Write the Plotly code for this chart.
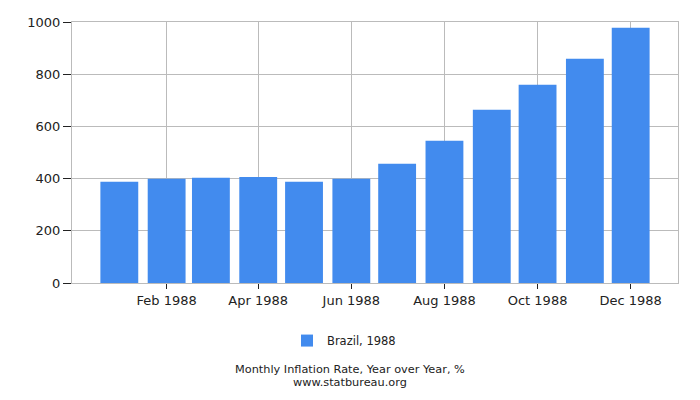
import plotly.graph_objects as go
import pandas as pd

months = pd.date_range("1988-01-01", periods=12, freq="MS")
inflation = [387.5, 399.0, 402.8, 406.6, 387.5, 399.0,
             456.5, 544.8, 663.7, 759.6, 859.3, 978.3]
series_name = "Brazil, 1988"
y_ticks = [0, 200, 400, 600, 800, 1000]

DAY_MS = 24 * 3600 * 1000
# centre of the page, in plot-area paper coords
PAGE_MID = (350 - 72) / 606

fig = go.Figure()
fig.add_trace(go.Bar(
    x=months,
    y=inflation,
    name=series_name,
    marker=dict(color="#428BEE", line=dict(width=0)),
    width=[24.8 * DAY_MS] * len(months),
    showlegend=True,
))

fig.update_layout(
    width=700,
    height=400,
    margin=dict(l=72, r=22, t=22, b=117),
    plot_bgcolor="white",
    paper_bgcolor="white",
    font=dict(family="DejaVu Sans", size=13, color="#222"),
    showlegend=True,
    legend=dict(
        orientation="h",
        x=(344 - 72) / 606, xanchor="center",
        y=-0.165, yanchor="top",
        font=dict(size=11.5),
    ),
    xaxis=dict(
        type="date",
        range=["1987-12-01", "1989-01-01"],
        tickvals=months[1::2],
        tickformat="%b %Y",
        ticks="outside",
        ticklen=5,
        tickcolor="#222",
        showgrid=True,
        gridcolor="#bbbbbb",
        showline=True,
        linecolor="#bbbbbb",
        mirror=True,
    ),
    yaxis=dict(
        range=[0, 1000],
        tickvals=y_ticks,
        ticks="outside",
        ticklen=8,
        tickcolor="#222",
        showgrid=True,
        gridcolor="#bbbbbb",
        showline=True,
        linecolor="#bbbbbb",
        mirror=True,
        zeroline=False,
    ),
    annotations=[
        dict(
            text="Monthly Inflation Rate, Year over Year, %",
            xref="paper", yref="paper",
            x=PAGE_MID, y=(283 - 369.5) / 261,
            xanchor="center", yanchor="middle",
            showarrow=False, borderpad=0,
            font=dict(size=11.3, color="#222"),
        ),
        dict(
            text="www.statbureau.org",
            xref="paper", yref="paper",
            x=PAGE_MID, y=(283 - 382.5) / 261,
            xanchor="center", yanchor="middle",
            showarrow=False, borderpad=0,
            font=dict(size=11.3, color="#222"),
        ),
    ],
)

# the page's default body margin would shift the fixed-size figure
fig.write_html(
    "out.html",
    config={"displayModeBar": False},
    post_script="document.body.style.margin='0';document.body.style.overflow='hidden';",
)
